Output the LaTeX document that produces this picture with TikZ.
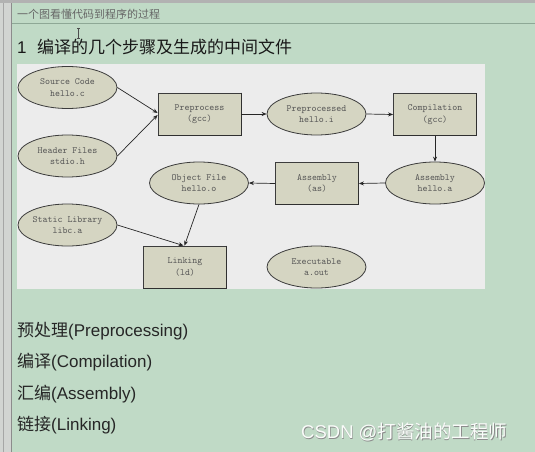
\documentclass[tikz,border=0pt]{standalone}
\usepackage{fontspec}
\setmainfont{Liberation Sans}
\newfontfamily\cjk{Noto Sans CJK SC}
\usetikzlibrary{shapes.geometric,arrows.meta}
\definecolor{bggreen}{HTML}{C0DAC6}
\definecolor{panelgray}{HTML}{ECECEC}
\definecolor{nodefill}{HTML}{D5D5C2}
\definecolor{nodeline}{HTML}{3C3C3C}
\definecolor{nodetext}{HTML}{555555}
\definecolor{stripgray}{HTML}{D2D4D2}
\definecolor{sepline}{HTML}{8EA896}
\tikzset{
  filebox/.style={shape=ellipse, draw=nodeline, line width=0.8pt, fill=nodefill,
    minimum width=99pt, minimum height=42pt, inner sep=0pt, align=center,
    text=nodetext, font=\ttfamily\fontsize{9.5}{11.5}\selectfont},
  stepbox/.style={shape=rectangle, draw=nodeline, line width=0.8pt, fill=nodefill,
    minimum width=83pt, minimum height=42pt, inner sep=0pt, align=center,
    text=nodetext, font=\ttfamily\fontsize{9.5}{11.5}\selectfont},
  flow/.style={draw=black!85, line width=0.7pt, -{Stealth[length=5pt,width=4pt]}},
  listtext/.style={anchor=west, inner sep=0pt, text=black!85, font=\fontsize{17}{20}\selectfont},
  edge3d/.style={draw=nodeline!80!black, line width=1.1pt}
}
\begin{document}
\begin{tikzpicture}[x=1pt,y=-1pt]
\useasboundingbox (0,0) rectangle (535,452);
% background
\fill[bggreen] (0,0) rectangle (535,452);
\fill[stripgray] (0,0) rectangle (11,452);
\draw[black!35, line width=0.8pt] (3,0) -- (3,452);
\draw[black!45, line width=1pt] (11.5,0) -- (11.5,452);
\fill[black!30] (0,0) rectangle (535,3);
\draw[sepline, line width=1pt] (12,23.5) -- (535,23.5);
% header
\node[anchor=west, inner sep=0pt, text=black!60, font=\cjk\fontsize{11}{13}\selectfont] (hdr0) at (17,14) {一个图看懂代码到程序的过程};
% I-beam cursor
\draw[black!70, line width=0.6pt] (78.5,28) -- (78.5,38) (77,28) -- (80,28) (77,38) -- (80,38);
% title
\node[anchor=west, inner sep=0pt, text=black!90, font=\fontsize{17}{20}\selectfont] (title) at (17,47) {1\hspace{10.5pt}{\cjk 编译的几个步骤及生成的中间文件}};
% panel
\fill[panelgray] (17,64) rectangle (485,289);
% nodes
\node[filebox] (src) at (67.5,87.5) {Source Code\\hello.c};
\node[filebox] (hdr) at (67.5,156) {Header Files\\stdio.h};
\node[stepbox] (pre) at (199.5,114) {Preprocess\\(gcc)};
\node[filebox] (prei) at (316.5,114) {Preprocessed\\hello.i};
\node[stepbox] (comp) at (435,114.5) {Compilation\\(gcc)};
\node[filebox] (asma) at (435,183) {Assembly\\hello.a};
\node[stepbox] (asm) at (317,183.5) {Assembly\\(as)};
\node[filebox] (obj) at (199,183) {Object File\\hello.o};
\node[filebox] (lib) at (67.5,225) {Static Library\\libc.a};
\node[stepbox] (link) at (185,267) {Linking\\(ld)};
\node[filebox] (exe) at (316.5,267) {Executable\\a.out};
% 3d edges of step boxes
\foreach \n in {pre,comp,asm,link}{
  \draw[edge3d] (\n.north east) -- (\n.south east) -- (\n.south west);
}
% connectors
\draw[flow] (src.east) -- ([yshift=1pt]pre.west);
\draw[flow] (hdr.east) -- ([yshift=-1pt]pre.west);
\draw[flow] (pre.east) -- (prei.west);
\draw[flow] (prei.east) -- (comp.west);
\draw[flow] (comp.south) -- (asma.north);
\draw[flow] (asma.west) -- (asm.east);
\draw[flow] (asm.west) -- (obj.east);
\draw[flow] (obj.south) -- ([xshift=-0.5pt]link.north);
\draw[flow] (lib.east) -- ([xshift=-1.5pt]link.north);
% list
\node[listtext] (l1) at (17,331) {{\cjk 预处理}(Preprocessing)};
\node[listtext] (l2) at (17,362) {{\cjk 编译}(Compilation)};
\node[listtext] (l3) at (17,394) {{\cjk 汇编}(Assembly)};
\node[listtext] (l4) at (17,425) {{\cjk 链接}(Linking)};
% watermark
\node[anchor=west, inner sep=0pt, text=black!45, font=\fontsize{18.5}{20}\selectfont] (wm0) at (301.6,432.6) {CSDN @{\cjk 打酱油的工程师}};
\node[anchor=west, inner sep=0pt, text=white!92!bggreen, font=\fontsize{18.5}{20}\selectfont] (wm) at (301,432) {CSDN @{\cjk 打酱油的工程师}};
\end{tikzpicture}
\end{document}
